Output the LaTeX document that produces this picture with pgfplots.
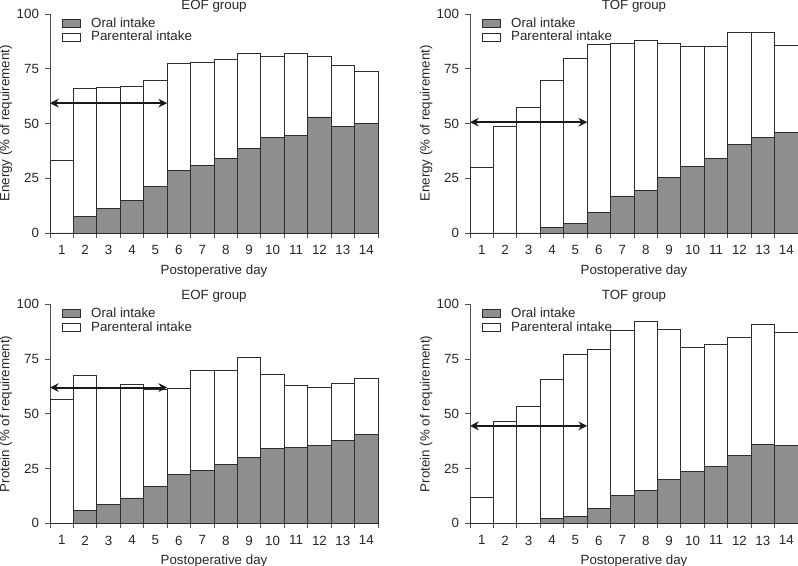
\documentclass[border=0pt]{standalone}
\usepackage{fontspec}
\setmainfont{Liberation Sans}
\usepackage{pgfplots}
\pgfplotsset{compat=1.18}
\usepackage{pgfplotstable}
\usetikzlibrary{arrows.meta}

\definecolor{oralc}{RGB}{142,142,142}
\definecolor{edgec}{RGB}{45,45,45}
\definecolor{axc}{RGB}{80,80,80}

\pgfplotstableread{
day total oral
1 33.0 0
2 65.8 7.6
3 66.4 11.2
4 66.9 15.0
5 69.8 21.4
6 77.4 28.7
7 78.0 31.0
8 79.2 34.0
9 82.2 38.8
10 80.7 43.6
11 82.2 44.5
12 80.7 53.0
13 76.6 48.5
14 74.0 50.2
}\eofenergy

\pgfplotstableread{
day total oral
1 30.1 0
2 48.5 0
3 57.4 0
4 69.6 2.6
5 79.8 4.4
6 86.2 9.4
7 86.6 16.9
8 88.1 19.5
9 86.5 25.4
10 85.4 30.4
11 85.4 33.9
12 91.6 40.6
13 91.5 43.6
14 85.7 45.9
}\tofenergy

\pgfplotstableread{
day total oral
1 56.7 0
2 67.6 5.8
3 61.6 8.7
4 63.5 11.6
5 61.2 16.9
6 61.6 22.5
7 69.9 24.0
8 69.9 26.9
9 75.7 29.9
10 67.8 34.0
11 62.8 34.7
12 61.9 35.7
13 63.7 38.0
14 66.4 40.6
}\eofprotein

\pgfplotstableread{
day total oral
1 11.7 0
2 46.4 0
3 53.6 0
4 65.8 2.1
5 77.2 3.0
6 79.2 7.0
7 88.0 12.8
8 92.4 15.0
9 88.7 20.1
10 80.5 23.7
11 81.9 25.8
12 84.8 31.0
13 90.7 36.2
14 87.1 35.6
}\tofprotein

\pgfplotsset{
  panel/.style={
    scale only axis,
    width=246pt, height=164.25pt,
    anchor=south west,
    xmin=0.5, xmax=14.5, ymin=0, ymax=100,
    axis lines*=left,
    axis line style={axc, line width=0.6pt},
    xtick={1,...,14},
    minor xtick={0.5,1.5,...,14.5},
    ytick={0,25,50,75,100},
    tick align=outside,
    major x tick style={draw=none},
    major tick length=3.75pt,
    minor tick length=3.75pt,
    tick style={axc, line width=0.6pt},
    /pgf/number format/assume math mode=true,
    tick label style={font=\fontsize{10}{12}\selectfont, text=black!85},
    xticklabel style={yshift=-2pt},
    yticklabel style={xshift=-1pt},
    label style={font=\fontsize{10}{12}\selectfont, text=black!85},
    title style={font=\fontsize{10}{12}\selectfont, text=black!85, at={(0.5,1)}, anchor=base, yshift=-2.6pt},
    xlabel={Postoperative day},
    xlabel style={at={(axis description cs:0.5,0)}, anchor=center, yshift=-28.5pt},
    ylabel style={at={(axis description cs:-0.134,0.5)}, anchor=center},
    clip=false,
    legend style={draw=none, fill=none, at={(0.023,1.01)}, anchor=north west,
      font=\fontsize{10}{11}\selectfont, text=black!85, row sep=-2.5pt,
      /tikz/every odd column/.append style={column sep=6pt}},
    legend cell align=left,
  },
  lgimg/.style={legend image code/.code={\draw[#1] (0pt,-3pt) rectangle (13.5pt,3pt);}},
  totbar/.style={ybar, bar width=1, bar shift=0pt, fill=white, draw=edgec, line width=0.6pt, forget plot},
  oralbar/.style={ybar, bar width=1, bar shift=0pt, fill=oralc, draw=edgec, line width=0.6pt, forget plot},
  arr/.style={{Stealth[length=6.5pt,width=6.5pt]}-{Stealth[length=6.5pt,width=6.5pt]}, line width=1.5pt, black!90, forget plot},
}

\begin{document}
\begin{tikzpicture}
\path[use as bounding box] (0,0) rectangle (598.5pt,424.5pt);

% Panel 1: EOF energy
\begin{axis}[panel, at={(37.5pt,249.75pt)}, title={EOF group}, ylabel={Energy (\% of requirement)}]
\addlegendimage{lgimg, fill=oralc, draw=edgec, line width=0.5pt}
\addlegendentry{Oral intake}
\addlegendimage{lgimg, fill=white, draw=edgec, line width=0.5pt}
\addlegendentry{Parenteral intake}
\addplot[totbar] table[x=day, y=total] {\eofenergy};
\addplot[oralbar] table[x=day, y=oral] {\eofenergy};
\addplot[arr] coordinates {(0.5,59.3) (5.5,59.3)};
\end{axis}

% Panel 2: TOF energy
\begin{axis}[panel, at={(352.5pt,249.75pt)}, title={TOF group}, ylabel={Energy (\% of requirement)}]
\addlegendimage{lgimg, fill=oralc, draw=edgec, line width=0.5pt}
\addlegendentry{Oral intake}
\addlegendimage{lgimg, fill=white, draw=edgec, line width=0.5pt}
\addlegendentry{Parenteral intake}
\addplot[totbar] table[x=day, y=total] {\tofenergy};
\addplot[oralbar] table[x=day, y=oral] {\tofenergy};
\addplot[arr] coordinates {(0.5,50.6) (5.5,50.6)};
\end{axis}

% Panel 3: EOF protein
\begin{axis}[panel, at={(37.5pt,32pt)}, title={EOF group}, ylabel={Protein (\% of requirement)}]
\addlegendimage{lgimg, fill=oralc, draw=edgec, line width=0.5pt}
\addlegendentry{Oral intake}
\addlegendimage{lgimg, fill=white, draw=edgec, line width=0.5pt}
\addlegendentry{Parenteral intake}
\addplot[totbar] table[x=day, y=total] {\eofprotein};
\addplot[oralbar] table[x=day, y=oral] {\eofprotein};
\addplot[arr] coordinates {(0.5,62.0) (5.5,62.0)};
\end{axis}

% Panel 4: TOF protein
\begin{axis}[panel, at={(352.5pt,32pt)}, title={TOF group}, ylabel={Protein (\% of requirement)}]
\addlegendimage{lgimg, fill=oralc, draw=edgec, line width=0.5pt}
\addlegendentry{Oral intake}
\addlegendimage{lgimg, fill=white, draw=edgec, line width=0.5pt}
\addlegendentry{Parenteral intake}
\addplot[totbar] table[x=day, y=total] {\tofprotein};
\addplot[oralbar] table[x=day, y=oral] {\tofprotein};
\addplot[arr] coordinates {(0.5,44.5) (5.5,44.5)};
\end{axis}
\end{tikzpicture}
\end{document}
